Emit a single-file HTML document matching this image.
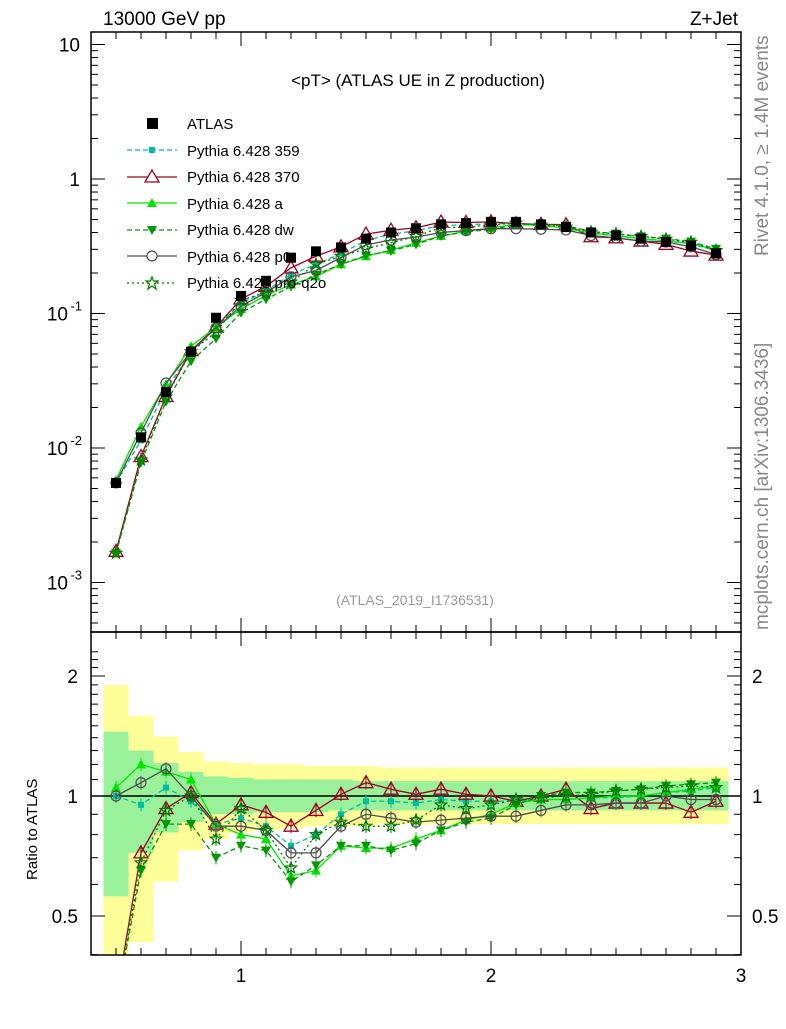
<!DOCTYPE html>
<html><head><meta charset="utf-8"><style>
body{margin:0;background:#fff;font-family:"Liberation Sans",sans-serif}
svg text{font-family:"Liberation Sans",sans-serif}
</style></head><body>
<svg id="c" width="786" height="1024" xmlns="http://www.w3.org/2000/svg"></svg>
<script>
const xs=[0.5,0.6,0.7,0.8,0.9,1.0,1.1,1.2,1.3,1.4,1.5,1.6,1.7,1.8,1.9,2.0,2.1,2.2,2.3,2.4,2.5,2.6,2.7,2.8,2.9];
const atlas=[0.0055,0.012,0.026,0.052,0.093,0.135,0.175,0.26,0.29,0.31,0.36,0.40,0.43,0.46,0.47,0.48,0.48,0.46,0.44,0.40,0.38,0.36,0.34,0.32,0.28];
const r359=[1.0,0.95,1.05,0.97,0.85,0.88,0.84,0.75,0.80,0.90,0.97,0.97,0.96,0.98,0.97,0.97,0.97,0.98,0.98,0.99,0.99,1.0,1.02,1.03,1.05];
const r370=[0.31,0.72,0.93,1.02,0.85,0.95,0.91,0.84,0.92,1.01,1.08,1.04,1.01,1.04,1.01,1.0,0.97,1.0,1.04,0.93,0.96,0.96,0.96,0.91,0.97];
const rA=[1.05,1.2,1.15,1.1,0.85,0.8,0.78,0.63,0.65,0.75,0.74,0.74,0.78,0.82,0.87,0.90,0.96,0.98,0.98,0.99,1.0,1.0,1.02,1.04,1.06];
const rDW=[0.3,0.65,0.85,0.85,0.70,0.75,0.73,0.61,0.67,0.75,0.75,0.73,0.76,0.82,0.86,0.88,0.95,1.0,1.02,1.02,1.03,1.04,1.06,1.07,1.08];
const rP0=[1.0,1.08,1.17,1.0,0.84,0.84,0.82,0.72,0.72,0.84,0.90,0.88,0.86,0.87,0.88,0.89,0.89,0.92,0.95,0.95,0.96,0.96,1.0,0.98,0.98];
const rQ2O=[0.3,0.68,0.92,1.0,0.78,0.93,0.82,0.66,0.80,0.86,0.84,0.84,0.87,0.95,0.93,0.95,0.98,0.99,1.0,1.01,1.03,1.04,1.05,1.06,1.05];
const yelLo=[0.3,0.43,0.61,0.73,0.78,0.81,0.82,0.83,0.84,0.84,0.84,0.85,0.85,0.85,0.85,0.85,0.85,0.85,0.85,0.85,0.85,0.85,0.85,0.85,0.85];
const yelHi=[1.9,1.59,1.41,1.29,1.22,1.21,1.2,1.2,1.19,1.19,1.19,1.18,1.18,1.18,1.18,1.18,1.18,1.18,1.18,1.18,1.18,1.18,1.18,1.18,1.18];
const grnLo=[0.56,0.72,0.81,0.86,0.9,0.9,0.91,0.91,0.91,0.92,0.92,0.92,0.92,0.92,0.92,0.92,0.92,0.92,0.92,0.92,0.92,0.92,0.92,0.92,0.92];
const grnHi=[1.45,1.30,1.21,1.15,1.12,1.11,1.1,1.1,1.1,1.1,1.09,1.09,1.09,1.09,1.09,1.09,1.09,1.09,1.09,1.09,1.09,1.09,1.09,1.09,1.09];
const yTicks=["10","1","10^-1","10^-2","10^-3"];
const yTickVals=[10,1,0.1,0.01,0.001];
const xTickVals=[1,2,3];
const rTickVals=[0.5,1,2];

const NS="http://www.w3.org/2000/svg";
const svg=document.getElementById('c');
const L=91,R=741,T=32,M=632,B=955;
const X=v=>L+(v-0.4)*250;
const Y=v=>179-134.5*Math.log10(v);
const RY=v=>796-120*Math.log2(v);
function el(tag,attrs,parent){const e=document.createElementNS(NS,tag);for(const k in attrs)e.setAttribute(k,attrs[k]);(parent||svg).appendChild(e);return e;}
function txt(s,x,y,attrs,parent){const t=el('text',Object.assign({x:x,y:y},attrs),parent);t.textContent=s;return t;}

const defs=el('defs',{});
const cp1=el('clipPath',{id:'cm'},defs);el('rect',{x:L,y:T,width:R-L,height:M-T},cp1);
const cp2=el('clipPath',{id:'cr'},defs);el('rect',{x:L,y:M,width:R-L,height:B-M},cp2);

const gb=el('g',{'clip-path':'url(#cr)'});


xs.forEach((x,i)=>{
  const y=el('rect',{x:X(x-0.05),y:RY(yelHi[i]),width:25,height:RY(yelLo[i])-RY(yelHi[i]),fill:'#ffff99'},gb);
  
  
  const g=el('rect',{x:X(x-0.05),y:RY(grnHi[i]),width:25,height:RY(grnLo[i])-RY(grnHi[i]),fill:'#99f299'},gb);
  
  
});
el('line',{x1:L,x2:R,y1:RY(1),y2:RY(1),stroke:'#000','stroke-width':1.5});

function marker(type,x,y,col,parent){
  const s=5;
  if(type==='sq')return el('rect',{x:x-s,y:y-s,width:2*s,height:2*s,fill:col},parent);
  if(type==='ssq')return el('rect',{x:x-3,y:y-3,width:6,height:6,fill:col},parent);
  if(type==='tri')return el('polygon',{points:`${x},${y-7} ${x-7},${y+5} ${x+7},${y+5}`,fill:'none',stroke:col,'stroke-width':1.3},parent);
  if(type==='ftri')return el('polygon',{points:`${x},${y-5} ${x-5},${y+4} ${x+5},${y+4}`,fill:col},parent);
  if(type==='dtri')return el('polygon',{points:`${x},${y+5} ${x-5},${y-4} ${x+5},${y-4}`,fill:col},parent);
  if(type==='circ')return el('circle',{cx:x,cy:y,r:5,fill:'none',stroke:col,'stroke-width':1.2},parent);
  if(type==='star'){let p=[];for(let k=0;k<10;k++){const a=-Math.PI/2+k*Math.PI/5,rr=k%2?2.5:6;p.push((x+rr*Math.cos(a)).toFixed(1)+','+(y+rr*Math.sin(a)).toFixed(1));}return el('polygon',{points:p.join(' '),fill:'none',stroke:col,'stroke-width':1.2},parent);}
}
const series=[
 {name:'Pythia 6.428 359',r:r359,col:'#00bf9f',dash:'5,3',m:'ssq',key:'359'},
 {name:'Pythia 6.428 370',r:r370,col:'#a0001e',dash:'',m:'tri',key:'370'},
 {name:'Pythia 6.428 a',r:rA,col:'#00e600',dash:'',m:'ftri',key:'a'},
 {name:'Pythia 6.428 dw',r:rDW,col:'#009900',dash:'5,3',m:'dtri',key:'dw'},
 {name:'Pythia 6.428 p0',r:rP0,col:'#4d4d4d',dash:'',m:'circ',key:'p0'},
 {name:'Pythia 6.428 pro-q2o',r:rQ2O,col:'#007a00',dash:'2,3',m:'star',key:'pro-q2o'}
];
series.forEach(s=>{
  const gm=el('g',{'clip-path':'url(#cm)'});
  
  
  const vals=xs.map((x,i)=>atlas[i]*s.r[i]);
  el('polyline',{points:xs.map((x,i)=>X(x)+','+Y(vals[i])).join(' '),fill:'none',stroke:s.col,'stroke-width':1.3,'stroke-dasharray':s.dash},gm);
  xs.forEach((x,i)=>{const m=marker(s.m,X(x),Y(vals[i]),s.col,gm);
    
    });
  const gr=el('g',{'clip-path':'url(#cr)'});
  
  
  el('polyline',{points:xs.map((x,i)=>X(x)+','+RY(s.r[i])).join(' '),fill:'none',stroke:s.col,'stroke-width':1.3,'stroke-dasharray':s.dash},gr);
  xs.forEach((x,i)=>{
    el('line',{x1:X(x),x2:X(x),y1:RY(s.r[i]*1.04),y2:RY(s.r[i]/1.04),stroke:s.col,'stroke-width':1},gr);
    const m=marker(s.m,X(x),RY(s.r[i]),s.col,gr);
    
    });
});
xs.forEach((x,i)=>{const m=marker('sq',X(x),Y(atlas[i]),'#000');
  
  });

el('rect',{x:L,y:T,width:R-L,height:M-T,fill:'none',stroke:'#000','stroke-width':1.5});
el('rect',{x:L,y:M,width:R-L,height:B-M,fill:'none',stroke:'#000','stroke-width':1.5});
for(let d=-4;d<=1;d++){for(let k=1;k<10;k++){const v=k*Math.pow(10,d);const y=Y(v);if(y<T||y>M)continue;const len=k===1?14:7;
  el('line',{x1:L,x2:L+len,y1:y,y2:y,stroke:'#000'});el('line',{x1:R,x2:R-len,y1:y,y2:y,stroke:'#000'});}}
yTickVals.forEach((v,i)=>{const s=yTicks[i];const y=Y(v);
  let t;
  if(s.indexOf('^')>0){const [b,e]=s.split('^');t=txt(b,68,y+7,{'font-size':19,'text-anchor':'end'});const ts=txt(e,82,y-3,{'font-size':13,'text-anchor':'end'});}
  else t=txt(s,80,y+7,{'font-size':19,'text-anchor':'end'});
  
  });
for(let v=0.4;v<=3.001;v+=0.1){const x=X(v);const maj=Math.abs(v-Math.round(v))<0.01;const len=maj?14:7;
  [M,B].forEach(yb=>el('line',{x1:x,x2:x,y1:yb,y2:yb-len,stroke:'#000'}));
  el('line',{x1:x,x2:x,y1:T,y2:T+len,stroke:'#000'});el('line',{x1:x,x2:x,y1:M,y2:M+len,stroke:'#000'});}
xTickVals.forEach(v=>{const t=txt(String(v),X(v),982,{'font-size':19,'text-anchor':'middle'});
  
  });
for(let v=0.4;v<=2.31;v+=0.1){const y=RY(v);if(y<M||y>B)continue;const maj=[0.5,1,2].some(q=>Math.abs(q-v)<0.01);const len=maj?14:7;
  el('line',{x1:L,x2:L+len,y1:y,y2:y,stroke:'#000'});el('line',{x1:R,x2:R-len,y1:y,y2:y,stroke:'#000'});}
rTickVals.forEach(v=>{const y=RY(v)+7;
  const a=txt(String(v),78,y,{'font-size':19,'text-anchor':'end'});
  const b=txt(String(v),752,y,{'font-size':19});});
</script>
<svg width="786" height="1024" style="position:absolute;left:0;top:0" xmlns="http://www.w3.org/2000/svg">
<text x="103" y="25" font-size="19">13000 GeV pp</text>
<text x="738" y="25" font-size="19" text-anchor="end">Z+Jet</text>
<text x="418" y="86" font-size="17" text-anchor="middle">&lt;pT&gt; (ATLAS UE in Z production)</text>
<text x="415" y="605" font-size="14" fill="#999" text-anchor="middle">(ATLAS_2019_I1736531)</text>
<text transform="translate(768,256) rotate(-90)" font-size="19" fill="#888">Rivet 4.1.0, ≥ 1.4M events</text>
<text transform="translate(768,630) rotate(-90)" font-size="19" fill="#888">mcplots.cern.ch [arXiv:1306.3436]</text>
<text transform="translate(37,880) rotate(-90)" font-size="15">Ratio to ATLAS</text>
<g font-size="15">
<rect x="147" y="118" width="11" height="11" fill="#000"/>
<text x="187" y="129">ATLAS</text>
<line x1="127" x2="177" y1="150" y2="150" stroke="#00bf9f" stroke-dasharray="5,3" stroke-width="1.3"/><rect x="149" y="147" width="6" height="6" fill="#00bf9f"/>
<text x="187" y="156">Pythia 6.428 359</text>
<line x1="127" x2="177" y1="177" y2="177" stroke="#a0001e" stroke-width="1.3"/><polygon points="152,170 145,182 159,182" fill="#fff" stroke="#a0001e" stroke-width="1.3"/>
<text x="187" y="182">Pythia 6.428 370</text>
<line x1="127" x2="177" y1="203" y2="203" stroke="#00e600" stroke-width="1.3"/><polygon points="152,198 147,207 157,207" fill="#00e600"/>
<text x="187" y="209">Pythia 6.428 a</text>
<line x1="127" x2="177" y1="230" y2="230" stroke="#009900" stroke-dasharray="5,3" stroke-width="1.3"/><polygon points="152,235 147,226 157,226" fill="#009900"/>
<text x="187" y="235">Pythia 6.428 dw</text>
<line x1="127" x2="177" y1="256" y2="256" stroke="#4d4d4d" stroke-width="1.3"/><circle cx="152" cy="256" r="5" fill="#fff" stroke="#4d4d4d" stroke-width="1.2"/>
<text x="187" y="262">Pythia 6.428 p0</text>
<line x1="127" x2="177" y1="283" y2="283" stroke="#007a00" stroke-dasharray="2,3" stroke-width="1.3"/><polygon points="152,277 153.5,281 158,281 154.5,284 156,289 152,286 148,289 149.5,284 146,281 150.5,281" fill="#fff" stroke="#007a00" stroke-width="1.2"/>
<text x="187" y="288">Pythia 6.428 pro-q2o</text>
</g>
</svg>
</body></html>
